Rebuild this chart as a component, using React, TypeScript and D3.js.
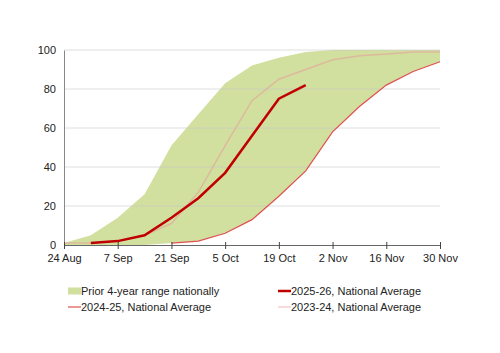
import { useRef, useEffect } from "react";
import * as d3 from "d3";

// weekly points, 24 Aug .. 30 Nov
const weeks = [
  "2025-08-24", "2025-08-31", "2025-09-07", "2025-09-14", "2025-09-21",
  "2025-09-28", "2025-10-05", "2025-10-12", "2025-10-19", "2025-10-26",
  "2025-11-02", "2025-11-09", "2025-11-16", "2025-11-23", "2025-11-30",
];
const rangeLow = [0, 0, 0, 0, 1, 2, 6, 13, 25, 38, 58, 71, 82, 89, 94];
const rangeHigh = [1, 5, 14, 26, 51, 67, 83, 92, 96, 99, 100, 100, 100, 100, 100];
const cur2526: (number | null)[] = [null, 1, 2, 5, 14, 24, 37, 56, 75, 82, null, null, null, null, null];
const prev2425: (number | null)[] = [null, null, null, null, 1, 2, 6, 13, 25, 38, 58, 71, 82, 89, 94];
const prev2324 = [1, 1, 2, 5, 11, 27, 51, 74, 85, 90, 95, 97, 98, 99, 99];

const yTicks = [0, 20, 40, 60, 80, 100];
const xTickLabels = ["24 Aug", "7 Sep", "21 Sep", "5 Oct", "19 Oct", "2 Nov", "16 Nov", "30 Nov"];

const FONT = "'Liberation Sans', Arial, sans-serif";
const GREEN = "#d1df9f";

export default function App() {
  const svgRef = useRef<SVGSVGElement>(null);

  useEffect(() => {
    const width = 500, height = 353;
    const margin = { top: 50, left: 64, right: 60, bottom: 108 };
    const svg = d3.select(svgRef.current);
    svg.selectAll("*").remove();

    const parse = d3.timeParse("%Y-%m-%d");
    const dates = weeks.map((w) => parse(w) as Date);

    const x = d3.scaleTime()
      .domain([dates[0], dates[dates.length - 1]])
      .range([margin.left, width - margin.right]);
    const y = d3.scaleLinear().domain([0, 100]).range([height - margin.bottom, margin.top]);

    // range band
    const area = d3.area<number>()
      .x((_, i) => x(dates[i]))
      .y0((_, i) => y(rangeLow[i]))
      .y1((d) => y(d));
    svg.append("path").datum(rangeHigh).attr("d", area).attr("fill", GREEN);

    // gridlines
    svg.append("g")
      .selectAll("line")
      .data(yTicks.filter((t) => t > 0))
      .join("line")
      .attr("x1", margin.left)
      .attr("x2", width - margin.right)
      .attr("y1", (d) => y(d))
      .attr("y2", (d) => y(d))
      .attr("stroke", "#c8c8c8")
      .attr("stroke-opacity", 0.6)
      .attr("stroke-width", 1);

    const line = d3.line<number | null>()
      .defined((d) => d !== null)
      .x((_, i) => x(dates[i]))
      .y((d) => y(d as number));

    svg.append("path").datum(prev2324).attr("d", line as any)
      .attr("fill", "none").attr("stroke", "#e79a9a").attr("stroke-opacity", 0.55).attr("stroke-width", 1.5);
    svg.append("path").datum(prev2425).attr("d", line)
      .attr("fill", "none").attr("stroke", "#e05050").attr("stroke-width", 1.2);
    svg.append("path").datum(cur2526).attr("d", line)
      .attr("fill", "none").attr("stroke", "#c00000").attr("stroke-width", 2.5);

    // y axis
    const yAxis = svg.append("g").attr("transform", `translate(${margin.left},0)`)
      .call(d3.axisLeft(y).tickValues(yTicks).tickSize(0).tickPadding(8));
    yAxis.select(".domain").attr("stroke", "#888");
    yAxis.selectAll("text").attr("font-family", FONT).attr("font-size", 11).attr("fill", "#222");

    // x axis
    const tickDates = dates.filter((_, i) => i % 2 === 0);
    const xAxis = svg.append("g").attr("transform", `translate(0,${y(0)})`)
      .call(d3.axisBottom(x).tickValues(tickDates).tickSize(0).tickPadding(9)
        .tickFormat((_, i) => xTickLabels[i]));
    xAxis.select(".domain").attr("stroke", "#666");
    xAxis.selectAll(".tick line").attr("y1", -3).attr("y2", 4).attr("stroke", "#444");
    xAxis.selectAll("text").attr("font-family", FONT).attr("font-size", 11).attr("fill", "#222");

    // legend
    const legend = [
      { label: "Prior 4-year range nationally", kind: "box", color: GREEN, col: 0, row: 0 },
      { label: "2025-26, National Average", kind: "line", color: "#c00000", w: 2.5, col: 1, row: 0 },
      { label: "2024-25, National Average", kind: "line", color: "#e05050", w: 1.2, col: 0, row: 1 },
      { label: "2023-24, National Average", kind: "line", color: "#f3c3c3", w: 1.2, col: 1, row: 1 },
    ];
    const lg = svg.append("g");
    legend.forEach((d) => {
      const lx = d.col === 0 ? 68 : 278;
      const ly = 291 + d.row * 16;
      if (d.kind === "box") {
        lg.append("rect").attr("x", lx).attr("y", ly - 3.5).attr("width", 13).attr("height", 7).attr("fill", d.color);
      } else {
        lg.append("line").attr("x1", lx).attr("x2", lx + 13).attr("y1", ly).attr("y2", ly)
          .attr("stroke", d.color).attr("stroke-width", d.w as number);
      }
      lg.append("text").attr("x", lx + 13).attr("y", ly).attr("dy", "0.35em")
        .attr("font-family", FONT).attr("font-size", 11).attr("fill", "#222").text(d.label);
    });
  }, []);

  return (
    <svg ref={svgRef} width={500} height={353}
      style={{ position: "absolute", left: 0, top: 0, background: "#fff" }} />
  );
}
